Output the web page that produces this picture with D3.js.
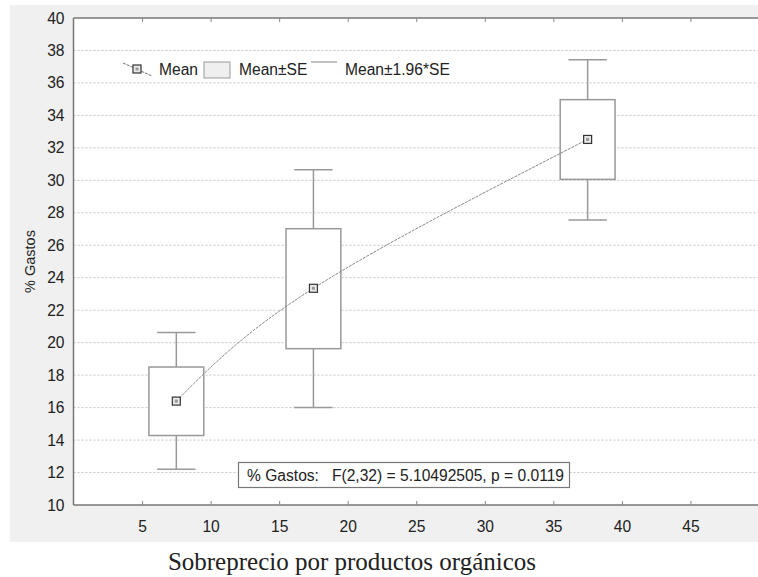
<!DOCTYPE html>
<html>
<head>
<meta charset="utf-8">
<script src="https://cdn.jsdelivr.net/npm/d3@7"></script>
<style>
  body { margin: 0; background: #fff; }
  text { font-family: "Liberation Sans", Arial, sans-serif; fill: #222; }
</style>
</head>
<body>
<svg width="758" height="577"></svg>
<script>
// data
var groups = [7.5, 17.5, 37.5];          // x position of each group
var means = [16.4, 23.35, 32.52];
var seLow = [14.28, 19.63, 30.06];
var seHigh = [18.5, 27.02, 34.97];
var ciLow = [12.2, 16.0, 27.56];
var ciHigh = [20.62, 30.65, 37.43];
var xTicks = [5, 10, 15, 20, 25, 30, 35, 40, 45];
var yTicks = [10, 12, 14, 16, 18, 20, 22, 24, 26, 28, 30, 32, 34, 36, 38, 40];
var legendLabels = ["Mean", "Mean±SE", "Mean±1.96*SE"];
var statText = "% Gastos:   F(2,32) = 5.10492505, p = 0.0119";

var svg = d3.select("svg");

var pLeft = 73.5, pRight = 759, pTop = 18, pBottom = 505;
var fs = "15.6px";

// gray panel behind the plot
svg.append("rect")
    .attr("x", 10).attr("y", 5)
    .attr("width", 760).attr("height", 537)
    .attr("fill", "#f0f0f0");

svg.append("rect")
    .attr("x", pLeft).attr("y", pTop)
    .attr("width", pRight - pLeft + 5).attr("height", pBottom - pTop)
    .attr("fill", "#fff");

var x = d3.scaleLinear().domain([0, 50]).range([pLeft, pRight]);
var y = d3.scaleLinear().domain([10, 40]).range([pBottom, pTop]);

// horizontal dotted grid
svg.append("g").selectAll("line")
    .data(yTicks.filter(function(d) { return d > 10 && d < 40; }))
  .enter().append("line")
    .attr("x1", pLeft).attr("x2", pRight)
    .attr("y1", function(d) { return y(d); })
    .attr("y2", function(d) { return y(d); })
    .attr("stroke", "#c4c4c4")
    .attr("stroke-width", 1)
    .attr("stroke-dasharray", "2,2");

// frame
svg.append("line").attr("x1", pLeft).attr("x2", pLeft).attr("y1", pTop).attr("y2", pBottom)
    .attr("stroke", "#777").attr("stroke-width", 1.5);
svg.append("line").attr("x1", pLeft).attr("x2", pRight).attr("y1", pBottom).attr("y2", pBottom)
    .attr("stroke", "#777").attr("stroke-width", 1.5);
svg.append("line").attr("x1", pLeft).attr("x2", pRight).attr("y1", pTop).attr("y2", pTop)
    .attr("stroke", "#777").attr("stroke-width", 1.5);

// x axis
var xAxis = d3.axisBottom(x).tickValues(xTicks).tickSize(-4).tickPadding(16);
svg.append("g")
    .attr("class", "xaxis")
    .attr("transform", "translate(0," + pBottom + ")")
    .call(xAxis)
    .call(function(g) {
      g.select(".domain").remove();
      g.selectAll(".tick line").attr("stroke", "#888");
      g.selectAll("text").style("font-size", fs)
        .style("font-family", "Liberation Sans, Arial, sans-serif").attr("fill", "#222");
    });

// top ticks
svg.append("g")
    .attr("transform", "translate(0," + pTop + ")")
    .call(d3.axisTop(x).tickValues(xTicks).tickSize(-4).tickFormat(""))
    .call(function(g) {
      g.select(".domain").remove();
      g.selectAll(".tick line").attr("stroke", "#888");
    });

// y axis
var yAxis = d3.axisLeft(y).tickValues(yTicks).tickSize(0).tickPadding(9);
svg.append("g")
    .attr("class", "yaxis")
    .attr("transform", "translate(" + pLeft + ",0)")
    .call(yAxis)
    .call(function(g) {
      g.select(".domain").remove();
      g.selectAll("text").style("font-size", fs)
        .style("font-family", "Liberation Sans, Arial, sans-serif").attr("fill", "#222");
    });

// axis titles
svg.append("text")
    .attr("transform", "translate(35," + y(25) + ") rotate(-90)")
    .attr("text-anchor", "middle")
    .style("font-size", "14.5px")
    .text("% Gastos");

svg.append("text")
    .attr("x", 352).attr("y", 570)
    .attr("text-anchor", "middle")
    .style("font-family", "Liberation Serif, Times New Roman, serif")
    .style("font-size", "25px")
    .text("Sobreprecio por productos orgánicos");

// whiskers (mean ± 1.96*SE)
var boxW = 4, capW = 2.8;
var wg = svg.append("g").attr("stroke", "#999").attr("stroke-width", 1.5);
groups.forEach(function(g, i) {
  wg.append("line")
      .attr("x1", x(g)).attr("x2", x(g))
      .attr("y1", y(ciLow[i])).attr("y2", y(ciHigh[i]));
  wg.append("line")
      .attr("x1", x(g - capW / 2)).attr("x2", x(g + capW / 2))
      .attr("y1", y(ciHigh[i])).attr("y2", y(ciHigh[i]));
  wg.append("line")
      .attr("x1", x(g - capW / 2)).attr("x2", x(g + capW / 2))
      .attr("y1", y(ciLow[i])).attr("y2", y(ciLow[i]));
});

// boxes (mean ± SE)
svg.append("g").selectAll("rect")
    .data(groups)
  .enter().append("rect")
    .attr("x", function(d) { return x(d - boxW / 2); })
    .attr("width", x(boxW) - x(0))
    .attr("y", function(d, i) { return y(seHigh[i]); })
    .attr("height", function(d, i) { return y(seLow[i]) - y(seHigh[i]); })
    .attr("fill", "#fff")
    .attr("stroke", "#999")
    .attr("stroke-width", 1.5);

// curve through the means
var pts = groups.map(function(g, i) { return [g, means[i]]; });
var line = d3.line()
    .x(function(d) { return x(d[0]); })
    .y(function(d) { return y(d[1]); })
    .curve(d3.curveNatural);
svg.append("path")
    .attr("d", line(pts))
    .attr("fill", "none")
    .attr("stroke", "#888")
    .attr("stroke-width", 1)
    .attr("stroke-dasharray", "3,1");

// mean markers
function marker(sel, cx, cy) {
  sel.append("rect")
      .attr("x", cx - 4).attr("y", cy - 4)
      .attr("width", 8).attr("height", 8)
      .attr("fill", "#e8e8e8")
      .attr("stroke", "#333")
      .attr("stroke-width", 1.2);
  sel.append("rect")
      .attr("x", cx - 1.5).attr("y", cy - 1.5)
      .attr("width", 3).attr("height", 3)
      .attr("fill", "#999");
}
groups.forEach(function(g, i) { marker(svg, x(g), y(means[i])); });

// legend
var lg = svg.append("g");
lg.append("line")
    .attr("x1", 123).attr("y1", 63).attr("x2", 152).attr("y2", 76)
    .attr("stroke", "#777").attr("stroke-dasharray", "3,1");
marker(lg, 137, 69);
lg.append("text").attr("x", 159).attr("y", 75).style("font-size", fs).text(legendLabels[0]);
lg.append("rect")
    .attr("x", 204).attr("y", 62).attr("width", 26).attr("height", 16)
    .attr("fill", "#efefef").attr("stroke", "#999").attr("stroke-width", 1);
lg.append("text").attr("x", 239).attr("y", 75).style("font-size", fs).text(legendLabels[1]);
lg.append("line")
    .attr("x1", 311).attr("x2", 337).attr("y1", 62).attr("y2", 62)
    .attr("stroke", "#999").attr("stroke-width", 1.2);
lg.append("text").attr("x", 345).attr("y", 75).style("font-size", fs).text(legendLabels[2]);

// stats box
svg.append("rect")
    .attr("x", 238.5).attr("y", 462.5)
    .attr("width", 331).attr("height", 25)
    .attr("fill", "#fff")
    .attr("stroke", "#777")
    .attr("stroke-width", 1.2);
svg.append("text")
    .attr("x", 247).attr("y", 481)
    .style("font-size", fs)
    .attr("xml:space", "preserve")
    .text(statText);
</script>
</body>
</html>
